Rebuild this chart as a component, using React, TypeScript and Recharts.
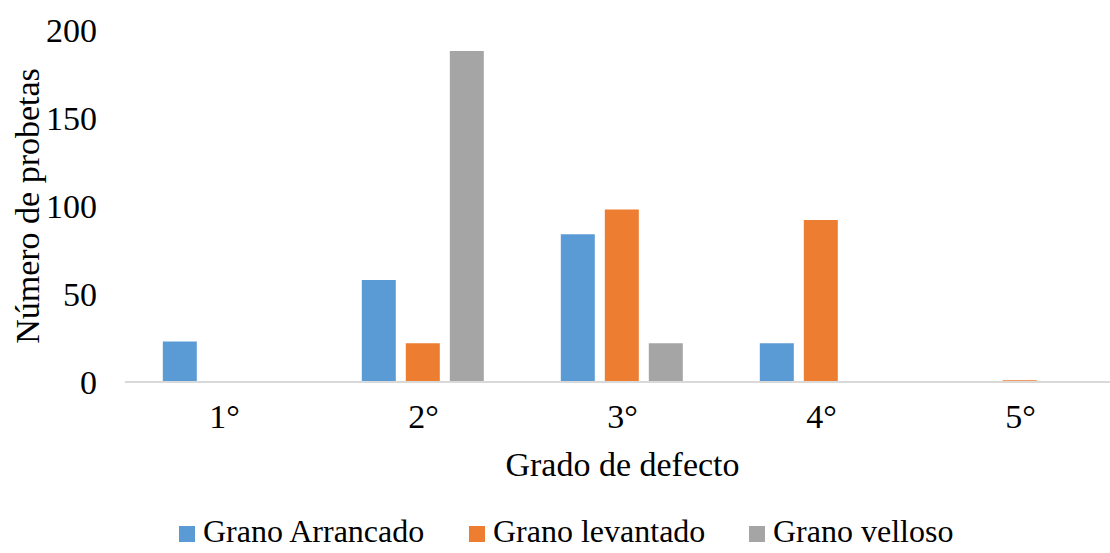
import React from 'react';
import { BarChart, Bar, XAxis, YAxis, Legend } from 'recharts';

// Grado de defecto vs número de probetas, three kinds of grain defect.

const GRADOS = ['1°', '2°', '3°', '4°', '5°'];
const ARRANCADO = [23, 58, 84, 22, 0];
const LEVANTADO = [0, 22, 98, 92, 1];
const VELLOSO = [0, 188, 22, 0, 0];
const Y_TICKS = [0, 50, 100, 150, 200];

const SERIES = [
  { key: 'arrancado', name: 'Grano Arrancado', color: '#5B9BD5' },
  { key: 'levantado', name: 'Grano levantado', color: '#ED7D31' },
  { key: 'velloso', name: 'Grano velloso', color: '#A5A5A5' },
];
const LEGEND_X = [179, 469, 749];

const data = GRADOS.map((g, i) => ({
  grado: g,
  arrancado: ARRANCADO[i],
  levantado: LEVANTADO[i],
  velloso: VELLOSO[i],
}));

const FONT = 'Liberation Serif';
const FS = 34;

// legend drawn as svg so it gets the same serif as the axes
function LegendContent() {
  return (
    <svg width={1110} height={44} style={{ display: 'block' }}>
      {SERIES.map((s, i) => (
        <g key={s.key}>
          <rect x={LEGEND_X[i]} y={17} width={16} height={16} fill={s.color} />
          <text x={LEGEND_X[i] + 24} y={33} fontFamily={FONT} fontSize={32} fill="#000">
            {s.name}
          </text>
        </g>
      ))}
    </svg>
  );
}

export default function App() {
  return (
    <div style={{ width: 1110, height: 553, background: '#fff' }}>
      <style>{`body { margin: 0; }`}</style>
      <BarChart
        width={1110}
        height={553}
        data={data}
        margin={{ top: 30, right: -10, left: 0, bottom: 0 }}
        barCategoryGap="19%"
        barGap={10}
      >
        <XAxis
          dataKey="grado"
          axisLine={{ stroke: '#D9D9D9', strokeWidth: 2 }}
          tickLine={false}
          tick={{ fill: '#000', fontSize: FS, fontFamily: FONT }}
          tickMargin={16}
          height={127}
          label={{ value: 'Grado de defecto', position: 'insideTop', offset: 70, fill: '#000', fontSize: FS, fontFamily: FONT }}
        />
        <YAxis
          domain={[0, 200]}
          ticks={Y_TICKS}
          axisLine={false}
          tickLine={false}
          width={125}
          tickMargin={22}
          tick={{ fill: '#000', fontSize: FS, fontFamily: FONT }}
          label={{ value: 'Número de probetas', angle: -90, position: 'insideLeft', offset: 27, fill: '#000', fontSize: FS, fontFamily: FONT, style: { textAnchor: 'middle' } }}
        />
        <Legend verticalAlign="bottom" content={<LegendContent />} wrapperStyle={{ left: 0, width: 1110 }} />
        {SERIES.map((s) => (
          <Bar key={s.key} dataKey={s.key} name={s.name} fill={s.color} isAnimationActive={false} />
        ))}
      </BarChart>
    </div>
  );
}
